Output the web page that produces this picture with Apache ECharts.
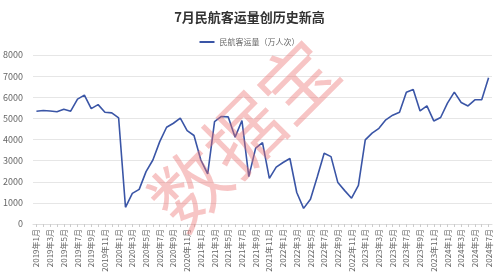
<!DOCTYPE html>
<html>
<head>
<meta charset="utf-8">
<script src="https://cdn.jsdelivr.net/npm/echarts@6/dist/echarts.min.js"></script>
<style>html,body{margin:0;padding:0;background:#fff}#c{width:499px;height:277px}</style>
</head>
<body>
<div id="c"></div>
<script>
const titleText = '7月民航客运量创历史新高';
const seriesName = '民航客运量（万人次）';
const years = [2019, 2020, 2021, 2022, 2023, 2024];
const categories = [];
years.forEach(y => { for (let m = 1; m <= 12; m++) { if (y === 2024 && m > 7) break; categories.push(y + '年' + m + '月'); } });
const values2019 = [5340, 5370, 5350, 5310, 5430, 5340, 5910, 6100, 5460, 5650, 5290, 5260];
const values2020 = [5020, 790, 1450, 1640, 2480, 3030, 3900, 4580, 4770, 5010, 4420, 4190];
const values2021 = [3030, 2370, 4850, 5090, 5070, 4110, 4900, 2240, 3590, 3850, 2160, 2690];
const values2022 = [2910, 3100, 1490, 740, 1170, 2240, 3350, 3190, 1960, 1580, 1220, 1830];
const values2023 = [3980, 4300, 4530, 4930, 5150, 5290, 6240, 6370, 5350, 5590, 4880, 5040];
const values2024 = [5720, 6240, 5750, 5590, 5880, 5880, 6920];
const values = [].concat(values2019, values2020, values2021, values2022, values2023, values2024);
const yTicks = { min: 0, max: 8000, interval: 1000 };
const watermark = '数据宝';

const chart = echarts.init(document.getElementById('c'));
const ff = '"Noto Sans CJK SC", "Noto Sans", sans-serif';
chart.setOption({
  animation: false,
  textStyle: { fontFamily: ff },
  title: { text: titleText, left: 'center', top: 6, textStyle: { fontSize: 13, fontWeight: 'bold', color: '#333', fontFamily: ff } },
  legend: { data: [{ name: seriesName, icon: 'rect' }], top: 33, left: 'center', itemWidth: 15, itemHeight: 2, itemGap: 4, textStyle: { fontSize: 8, color: '#666', fontFamily: ff } },
  grid: { left: 33, right: 7, top: 55, bottom: 53, containLabel: false },
  xAxis: {
    type: 'category', data: categories, boundaryGap: true,
    axisLine: { lineStyle: { color: '#ddd' } },
    axisTick: { show: true, interval: 0, alignWithLabel: true, lineStyle: { color: '#ccc' }, length: 3 },
    axisLabel: { rotate: 90, interval: 1, fontSize: 8, color: '#666', margin: 5, fontFamily: ff }
  },
  yAxis: {
    type: 'value', min: yTicks.min, max: yTicks.max, interval: yTicks.interval,
    axisLine: { show: false }, axisTick: { show: false },
    splitLine: { lineStyle: { color: '#e6e6e6' } },
    axisLabel: { fontSize: 9, color: '#666', margin: 10, fontFamily: ff, formatter: v => String(v) }
  },
  series: [{
    name: seriesName, type: 'line', data: values, symbol: 'none',
    lineStyle: { color: '#3a55a6', width: 1.6 }, itemStyle: { color: '#3a55a6' }, z: 2
  }],
  graphic: [{
    type: 'text', left: 136, top: 27, rotation: Math.PI / 4, z: 100, silent: true,
    style: { text: watermark, fontSize: 76, fontFamily: ff, fill: 'rgba(236,110,110,0.4)', letterSpacing: 28 }
  }]
});
</script>
</body>
</html>
